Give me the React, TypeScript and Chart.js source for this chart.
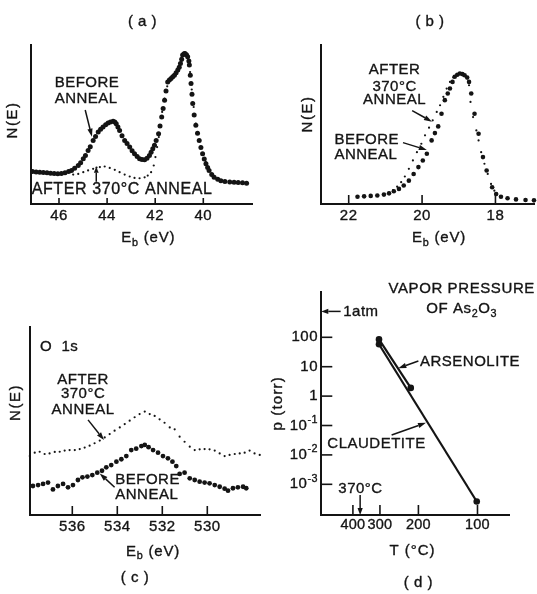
import React, { useEffect, useRef } from "react";
import { Chart, registerables } from "chart.js";
Chart.register(...registerables);

const INK = "#141414";
const FAMILY = '"Liberation Sans", Arial, Helvetica, sans-serif';

// ---------- (a) As 3d region ----------
const aTicks = [46, 44, 42, 40];
const aBeforeE = [47.1, 46.95, 46.8, 46.65, 46.5, 46.35, 46.2, 46.05, 45.9, 45.75, 45.6, 45.48, 45.35, 45.2, 45.1, 44.99, 44.9, 44.79, 44.7, 44.58, 44.48, 44.37, 44.27, 44.17, 44.06, 43.96, 43.86, 43.75, 43.68, 43.62, 43.55, 43.48, 43.38, 43.27, 43.17, 43.06, 42.96, 42.86, 42.75, 42.65, 42.55, 42.44, 42.34, 42.24, 42.17, 42.1, 42.03, 41.96, 41.86, 41.8, 41.73, 41.67, 41.61, 41.55, 41.48, 41.41, 41.34, 41.27, 41.2, 41.13, 41.06, 41.0, 40.95, 40.9, 40.86, 40.8, 40.76, 40.7, 40.65, 40.6, 40.58, 40.54, 40.51, 40.47, 40.44, 40.38, 40.31, 40.24, 40.17, 40.1, 40.03, 39.96, 39.89, 39.82, 39.76, 39.65, 39.55, 39.4, 39.27, 39.1, 38.9, 38.72, 38.55, 38.37, 38.2];
const aBeforeN = [20.4, 20.2, 20.0, 19.8, 19.6, 19.4, 19.2, 19.0, 19.2, 19.6, 20.5, 21.1, 22.5, 24.2, 26, 28.4, 30.5, 33.7, 36, 40, 42.5, 45.3, 47, 48.4, 49.8, 50.9, 51.6, 52, 51.5, 50.5, 48.5, 46.3, 43, 40, 38, 35.8, 33.5, 31.6, 29.8, 28.4, 28, 27.8, 28.8, 30.5, 32.5, 34.7, 37, 40, 44.2, 49, 54.7, 60, 65.3, 71, 76.8, 78, 78.9, 80, 81, 82.5, 84.2, 86, 88.4, 91, 93.7, 94.5, 94.7, 93.8, 92.6, 90, 87.4, 81, 75.8, 69, 63.2, 56, 49.5, 44.5, 40, 35.5, 31.6, 28.3, 25.3, 23, 21.1, 18.5, 16.8, 15.5, 14.7, 14.2, 13.9, 13.7, 13.5, 13.3, 13.1];
const aAfterE = [45.41, 45.2, 44.99, 44.79, 44.58, 44.44, 44.3, 44.1, 43.89, 43.68, 43.48, 43.27, 43.06, 42.86, 42.65, 42.44, 42.31, 42.17, 42.06, 41.99, 41.92, 41.85, 41.78, 41.71, 41.61, 41.5, 41.4, 41.27, 41.13, 41.0, 40.9, 40.8, 40.7, 40.62, 40.55, 40.48, 40.4, 40.31, 40.24, 40.17, 40.1, 40.0, 39.9];
const aAfterN = [18.5, 18.9, 20, 21.1, 22.1, 22.9, 23.2, 23.6, 22.7, 21.5, 20, 18.5, 17.3, 16.4, 16.2, 16.8, 17.9, 20, 24.2, 29.5, 35.8, 42.1, 49.5, 57.9, 66.3, 74, 77.5, 79.5, 82, 85.5, 90, 93.5, 93.5, 90, 83, 72, 61, 50.5, 44.2, 40, 35.8, 31, 26.5];

// ---------- (b) valence band ----------
const bTicks = [22, 20, 18];
const bBeforeE = [21.76, 21.58, 21.4, 21.22, 21.04, 20.9, 20.77, 20.63, 20.5, 20.36, 20.23, 20.1, 19.98, 19.87, 19.74, 19.65, 19.56, 19.47, 19.38, 19.3, 19.24, 19.17, 19.11, 19.04, 18.97, 18.9, 18.84, 18.77, 18.72, 18.66, 18.57, 18.46, 18.34, 18.24, 18.09, 17.98, 17.85, 17.67, 17.44, 17.18, 16.95];
const bBeforeN = [4.6, 4.8, 5.1, 5.3, 5.9, 6.7, 8.0, 9.5, 11.6, 14.7, 18.9, 23.2, 27.4, 31.6, 40, 44.6, 48.8, 56.8, 65.3, 69.5, 72.6, 76.8, 80, 81.3, 82.1, 81.7, 81, 79.6, 76.8, 69.5, 56.8, 44.2, 29.5, 21.1, 10.5, 6.3, 4.6, 3.6, 2.9, 2.5, 2.3];
const bAfterE = [20.9, 20.79, 20.68, 20.57, 20.47, 20.36, 20.25, 20.14, 20.02, 19.92, 19.81, 19.71, 19.6, 19.51, 19.42, 19.33, 19.24, 19.15, 19.06, 18.97, 18.84, 18.77, 18.72, 18.68, 18.61, 18.52, 18.46, 18.39, 18.3, 18.21, 18.12, 18.03];
const bAfterN = [7.2, 8.8, 10.9, 13.7, 17.3, 22.1, 27.4, 32.6, 37.9, 43.2, 48, 52.6, 57.9, 62.1, 67.4, 72.6, 76.8, 79.6, 81.3, 82.1, 81, 79, 74.7, 64.2, 54.7, 46.3, 40, 32.6, 25.3, 18.9, 12.6, 8.4];

// ---------- (c) O 1s ----------
const cTicks = [536, 534, 532, 530];
const cAfterE = [537.89, 537.67, 537.45, 537.23, 537.01, 536.78, 536.56, 536.34, 536.12, 535.89, 535.67, 535.45, 535.23, 535.01, 534.78, 534.56, 534.34, 534.12, 533.89, 533.67, 533.45, 533.23, 533.01, 532.78, 532.56, 532.34, 532.12, 531.9, 531.67, 531.45, 531.23, 531.01, 530.78, 530.56, 530.34, 530.12, 529.9, 529.67, 529.45, 529.23, 529.01, 528.78, 528.56, 528.34, 528.12, 527.9, 527.67];
const cAfterN = [31.3, 33.1, 33.6, 32.4, 32.7, 33.5, 33.6, 34.2, 34.5, 34.5, 35, 35.8, 36.8, 38.1, 39.5, 41.2, 43, 44.8, 46.5, 48.3, 50.1, 51.9, 53.6, 54.9, 53.6, 52.6, 50.8, 49, 46.5, 45.5, 41.6, 38.9, 36.3, 34.5, 34.9, 35, 34.9, 34.2, 32.7, 31.3, 31.9, 32.4, 32.7, 33.1, 34.2, 32.7, 31.9];
const cBeforeE = [537.75, 537.52, 537.3, 537.08, 536.86, 536.64, 536.41, 536.19, 535.97, 535.75, 535.55, 535.33, 535.11, 534.89, 534.68, 534.49, 534.27, 534.04, 533.82, 533.6, 533.38, 533.16, 532.93, 532.78, 532.61, 532.41, 532.19, 531.97, 531.75, 531.55, 531.38, 531.23, 531.01, 530.78, 530.56, 530.34, 530.12, 529.9, 529.67, 529.45, 529.23, 529.08, 528.86, 528.64, 528.41, 528.27];
const cBeforeN = [15.4, 15.9, 16.5, 17.2, 13.6, 15.4, 16.5, 14.7, 15.9, 18.6, 20, 20.4, 21.2, 22.5, 23.5, 25.3, 26.5, 28.3, 29.6, 31.3, 34.5, 35.2, 36.6, 37.2, 36, 34.5, 33.1, 31.3, 30.1, 28.3, 26, 21.8, 22.5, 19.5, 18.6, 17.7, 17.2, 16.8, 15.9, 15, 14, 12.9, 14.2, 14.7, 15, 14.2];

// ---------- (d) vapour pressure of As2O3 ----------
const dTempTicks = [400, 300, 200, 100];
const dPressTicks = [100, 10, 1, 0.1, 0.01, 0.001];
const dPressLabels = [["100", ""], ["10", ""], ["1", ""], ["10", "-1"], ["10", "-2"], ["10", "-3"]];
const arsenoliteT = [303, 217];
const arsenoliteP = [85, 1.9];
const claudetiteT = [303, 101];
const claudetiteP = [58, 2.6e-4];
const annealT = 370;
const atmTorr = 760;

const invT = (t: number) => 1000 / (t + 273.15);

type Box = { left: number; top: number; width: number; height: number };
type Part = { t: string; sub?: boolean; sup?: boolean };

const font = (size: number) => `${size}px ${FAMILY}`;

function rich(ctx: CanvasRenderingContext2D, parts: Part[], x: number, y: number, size = 15, align: "left" | "center" | "right" = "left", spacing = 0.5) {
  ctx.save();
  ctx.fillStyle = INK;
  ctx.strokeStyle = INK;
  ctx.lineWidth = 0.35;
  ctx.lineJoin = "round";
  ctx.textBaseline = "middle";
  ctx.textAlign = "left";
  (ctx as any).letterSpacing = `${spacing}px`;
  const sz = (p: Part) => (p.sub || p.sup ? size * 0.72 : size);
  const widths = parts.map((p) => {
    ctx.font = font(sz(p));
    return ctx.measureText(p.t).width;
  });
  const total = widths.reduce((a, b) => a + b, 0);
  let cx = align === "left" ? x : align === "center" ? x - total / 2 : x - total;
  parts.forEach((p, i) => {
    ctx.font = font(sz(p));
    const dy = p.sub ? size * 0.32 : p.sup ? -size * 0.36 : 0;
    ctx.fillText(p.t, cx, y + dy);
    ctx.strokeText(p.t, cx, y + dy);
    cx += widths[i];
  });
  ctx.restore();
}
const txt = (ctx: CanvasRenderingContext2D, s: string, x: number, y: number, size = 15, align: "left" | "center" | "right" = "left", spacing = 0.5) =>
  rich(ctx, [{ t: s }], x, y, size, align, spacing);

function vtxt(ctx: CanvasRenderingContext2D, parts: Part[], x: number, y: number, size = 15, spacing = 1.5) {
  ctx.save();
  ctx.translate(x, y);
  ctx.rotate(-Math.PI / 2);
  rich(ctx, parts, 0, 0, size, "center", spacing);
  ctx.restore();
}

function seg(ctx: CanvasRenderingContext2D, x1: number, y1: number, x2: number, y2: number, lw = 1.6) {
  ctx.save();
  ctx.strokeStyle = INK;
  ctx.lineWidth = lw;
  ctx.beginPath();
  ctx.moveTo(x1, y1);
  ctx.lineTo(x2, y2);
  ctx.stroke();
  ctx.restore();
}

function arrow(ctx: CanvasRenderingContext2D, a: number[], b: number[], head = 8, hw = 2.6, lw = 1.5) {
  const [x1, y1] = a;
  const [x2, y2] = b;
  const ang = Math.atan2(y2 - y1, x2 - x1);
  const bx = x2 - head * Math.cos(ang);
  const by = y2 - head * Math.sin(ang);
  seg(ctx, x1, y1, bx, by, lw);
  ctx.save();
  ctx.fillStyle = INK;
  ctx.beginPath();
  ctx.moveTo(x2, y2);
  ctx.lineTo(bx + hw * Math.sin(ang), by - hw * Math.cos(ang));
  ctx.lineTo(bx - hw * Math.sin(ang), by + hw * Math.cos(ang));
  ctx.closePath();
  ctx.fill();
  ctx.restore();
}

const pts = (xs: number[], ys: number[]) => xs.map((x, i) => ({ x, y: ys[i] }));
const dots = (data: any[], r: number) => ({
  data,
  showLine: false,
  pointRadius: r,
  pointHoverRadius: r,
  pointBackgroundColor: INK,
  pointBorderWidth: 0,
  clip: 8,
});

function scales(o: { xMin: number; xMax: number; xRev: boolean; yMin: number; yMax: number; yLog?: boolean; yW: number; xH: number }) {
  const border = { display: true, color: INK, width: 2 };
  const grid = { display: false, drawTicks: false };
  return {
    x: { type: "linear", min: o.xMin, max: o.xMax, reverse: o.xRev, grid, border, ticks: { display: false }, afterFit: (s: any) => { s.height = o.xH; } },
    y: { type: o.yLog ? "logarithmic" : "linear", min: o.yMin, max: o.yMax, grid, border, ticks: { display: false }, afterFit: (s: any) => { s.width = o.yW; } },
  };
}

function makeConfig(box: Box, datasets: any[], sc: any, pad: { top: number; right: number }, draw: (ctx: CanvasRenderingContext2D, P: (x: number, y: number) => number[], g: (x: number, y: number) => number[], ch: any) => void) {
  return {
    type: "scatter",
    data: { datasets },
    options: {
      responsive: false,
      animation: false,
      events: [],
      layout: { padding: { top: pad.top, right: pad.right, left: 0, bottom: 0 } },
      plugins: { legend: { display: false }, tooltip: { enabled: false }, title: { display: false } },
      scales: sc,
    },
    plugins: [
      {
        id: "annot",
        afterDraw(ch: any) {
          const ctx = ch.ctx as CanvasRenderingContext2D;
          const P = (x: number, y: number) => [ch.scales.x.getPixelForValue(x), ch.scales.y.getPixelForValue(y)];
          const g = (px: number, py: number) => [px - box.left, py - box.top];
          draw(ctx, P, g, ch);
        },
      },
    ],
  };
}

const boxA: Box = { left: 0, top: 0, width: 268, height: 290 };
const boxB: Box = { left: 268, top: 0, width: 269, height: 290 };
const boxC: Box = { left: 0, top: 290, width: 268, height: 304 };
const boxD: Box = { left: 268, top: 268, width: 269, height: 326 };

const Eb: Part[] = [{ t: "E" }, { t: "b", sub: true }, { t: " (eV)" }];

function xTicks(ctx: CanvasRenderingContext2D, ch: any, values: number[], len: number, labelY: number, label: (v: number) => string, size = 15, spacing = 0.5) {
  const ca = ch.chartArea;
  values.forEach((v) => {
    const x = ch.scales.x.getPixelForValue(v);
    seg(ctx, x, ca.bottom, x, ca.bottom - len, 1.6);
    txt(ctx, label(v), x, labelY, size, "center", spacing);
  });
}

function configA() {
  return makeConfig(
    boxA,
    [dots(pts(aAfterE, aAfterN), 1.1), dots(pts(aBeforeE, aBeforeN), 2.5)],
    scales({ xMin: 37.975, xMax: 47.164, xRev: true, yMin: 0, yMax: 100, yW: 31, xH: 86 }),
    { top: 45, right: 16 },
    (ctx, P, g, ch) => {
      xTicks(ctx, ch, aTicks, 6, g(0, 216)[1], (v) => String(v));
      const t = g(142.5, 21.7);
      txt(ctx, "( a )", t[0], t[1], 15, "center");
      const n = g(13.3, 120);
      vtxt(ctx, [{ t: "N(E)" }], n[0], n[1]);
      const e = g(148.3, 238.3);
      rich(ctx, Eb, e[0], e[1], 15, "center", 0.8);
      let p = P(46.18, 76.3);
      txt(ctx, "BEFORE", p[0], p[1]);
      p = P(46.18, 65.9);
      txt(ctx, "ANNEAL", p[0], p[1]);
      arrow(ctx, P(44.91, 59.1), P(44.63, 42.3));
      p = P(47.135, 8.8);
      txt(ctx, "AFTER 370°C ANNEAL", p[0], p[1], 16, "left", 0.6);
      arrow(ctx, P(44.45, 14), P(44.45, 23.5), 6, 2.4);
    }
  );
}

function configB() {
  return makeConfig(
    boxB,
    [dots(pts(bAfterE, bAfterN), 1.1), dots(pts(bBeforeE, bBeforeN), 2.3)],
    scales({ xMin: 16.93, xMax: 22.755, xRev: true, yMin: 0, yMax: 100, yW: 53, xH: 86 }),
    { top: 45, right: 0 },
    (ctx, P, g, ch) => {
      xTicks(ctx, ch, bTicks, 9, g(0, 216)[1], (v) => String(v));
      const t = g(430, 21.7);
      txt(ctx, "( b )", t[0], t[1], 15, "center");
      const n = g(307.5, 114);
      vtxt(ctx, [{ t: "N(E)" }], n[0], n[1]);
      const e = g(439, 238);
      rich(ctx, Eb, e[0], e[1], 15, "center", 0.8);
      let p = P(20.75, 84.3);
      txt(ctx, "AFTER", p[0], p[1], 15, "center");
      p = P(20.75, 73.8);
      txt(ctx, "370°C", p[0], p[1], 15, "center");
      p = P(20.75, 65.4);
      txt(ctx, "ANNEAL", p[0], p[1], 15, "center");
      arrow(ctx, P(20.27, 58.7), P(19.73, 51.8));
      p = P(22.39, 40.3);
      txt(ctx, "BEFORE", p[0], p[1]);
      p = P(22.39, 30.8);
      txt(ctx, "ANNEAL", p[0], p[1]);
      arrow(ctx, P(20.52, 38.6), P(19.87, 34));
    }
  );
}

function configC() {
  return makeConfig(
    boxC,
    [dots(pts(cAfterE, cAfterN), 1.1), dots(pts(cBeforeE, cBeforeN), 2.4)],
    scales({ xMin: 527.658, xMax: 537.88, xRev: true, yMin: 0, yMax: 100, yW: 30, xH: 79 }),
    { top: 36.7, right: 8 },
    (ctx, P, g, ch) => {
      xTicks(ctx, ch, cTicks, 9, g(0, 526.7)[1], (v) => String(v));
      const t = g(135, 577.5);
      txt(ctx, "( c )", t[0], t[1], 15, "center");
      const n = g(15.8, 402.5);
      vtxt(ctx, [{ t: "N(E)" }], n[0], n[1]);
      const e = g(153, 551.7);
      rich(ctx, Eb, e[0], e[1], 15, "center", 0.8);
      let p = P(537.44, 89.4);
      txt(ctx, "O  1s", p[0], p[1]);
      p = P(535.52, 71.7);
      txt(ctx, "AFTER", p[0], p[1], 15, "center");
      p = P(535.52, 64.1);
      txt(ctx, "370°C", p[0], p[1], 15, "center");
      p = P(535.52, 55.9);
      txt(ctx, "ANNEAL", p[0], p[1], 15, "center");
      arrow(ctx, P(535.3, 50.5), P(534.59, 39.8));
      p = P(534.09, 18.6);
      txt(ctx, "BEFORE", p[0], p[1]);
      p = P(534.09, 10.6);
      txt(ctx, "ANNEAL", p[0], p[1]);
      arrow(ctx, P(534.12, 14.7), P(534.78, 22.1));
    }
  );
}

function configD() {
  const line = (ts: number[], ps: number[]) => ({
    data: pts(ts.map(invT), ps),
    showLine: true,
    borderColor: INK,
    borderWidth: 2.2,
    pointRadius: 3.3,
    pointHoverRadius: 3.3,
    pointBackgroundColor: INK,
    pointBorderWidth: 0,
    clip: 8,
  });
  return makeConfig(
    boxD,
    [line(arsenoliteT, arsenoliteP), line(claudetiteT, claudetiteP)],
    scales({ xMin: 1.1825, xMax: 2.982, xRev: false, yMin: 9.04e-5, yMax: 3475, yLog: true, yW: 53.3, xH: 79 }),
    { top: 24, right: 28 },
    (ctx, P, g, ch) => {
      const ca = ch.chartArea;
      xTicks(ctx, ch, dTempTicks.map(invT), 10, g(0, 525.3)[1], (v) => String(Math.round(1000 / v - 273.15)), 14.5, 0.2);
      const yl = g(318, 0)[0];
      dPressTicks.forEach((v, i) => {
        const y = ch.scales.y.getPixelForValue(v);
        seg(ctx, ca.left, y, ca.left + 11, y, 1.6);
        const [base, sup] = dPressLabels[i];
        const parts: Part[] = [{ t: base }];
        if (sup) parts.push({ t: sup, sup: true });
        rich(ctx, parts, yl, y, 15, "right", 0.5);
      });
      const t = g(418.3, 583.3);
      txt(ctx, "( d )", t[0], t[1], 15, "center");
      const n = g(277.5, 403.3);
      vtxt(ctx, [{ t: "p (torr)" }], n[0], n[1], 15, 1.2);
      const e = g(412.5, 551);
      txt(ctx, "T (°C)", e[0], e[1], 15, "center", 1);
      let q = g(461.7, 289);
      txt(ctx, "VAPOR PRESSURE", q[0], q[1], 15, "center", 0.6);
      q = g(461.7, 309);
      rich(ctx, [{ t: "OF As" }, { t: "2", sub: true }, { t: "O" }, { t: "3", sub: true }], q[0], q[1], 15, "center", 0.6);
      const atm = P(1.368, atmTorr);
      arrow(ctx, atm, [ca.left, atm[1]], 7, 2.6);
      let p = P(1.393, atmTorr);
      txt(ctx, "1atm", p[0], p[1]);
      p = P(2.129, 14.8);
      txt(ctx, "ARSENOLITE", p[0], p[1]);
      arrow(ctx, P(2.113, 15.6), P(1.921, 8.83));
      p = P(1.24, 0.0234);
      txt(ctx, "CLAUDETITE", p[0], p[1]);
      arrow(ctx, P(1.857, 0.0475), P(2.186, 0.124));
      p = P(1.3455, 7.1e-4);
      txt(ctx, "370°C", p[0], p[1]);
      const m = P(invT(annealT), 4.32e-4);
      arrow(ctx, m, [m[0], ca.bottom], 7, 2.6);
    }
  );
}

function Panel({ box, build }: { box: Box; build: () => any }) {
  const ref = useRef<HTMLCanvasElement>(null);
  useEffect(() => {
    const chart = new Chart(ref.current as HTMLCanvasElement, build());
    return () => chart.destroy();
  }, []);
  return (
    <canvas
      ref={ref}
      width={box.width}
      height={box.height}
      style={{ position: "absolute", left: box.left, top: box.top, width: box.width, height: box.height }}
    />
  );
}

export default function App() {
  return (
    <div style={{ position: "absolute", left: 0, top: 0, width: 537, height: 594, background: "#fff", overflow: "hidden" }}>
      <Panel box={boxA} build={configA} />
      <Panel box={boxB} build={configB} />
      <Panel box={boxC} build={configC} />
      <Panel box={boxD} build={configD} />
    </div>
  );
}
